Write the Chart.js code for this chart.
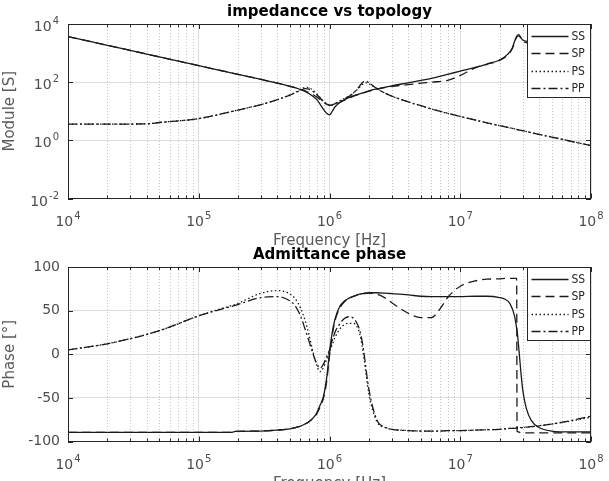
<!DOCTYPE html>
<html>
<head>
<meta charset="utf-8">
<script src="https://cdn.jsdelivr.net/npm/chart.js@4.4.1/dist/chart.umd.min.js"></script>
<style>
  html, body { margin: 0; padding: 0; background: #fff; overflow: hidden; }
  #wrap { position: relative; width: 609px; height: 481px; overflow: hidden; background: #fff; }
  .plot { position: absolute; left: 0; width: 609px; height: 250px; }
</style>
</head>
<body>
<div id="wrap">
  <div class="plot" style="top:0"><canvas id="modChart"></canvas></div>
  <div class="plot" style="top:243px"><canvas id="phaseChart"></canvas></div>
</div>
<script>
// ---- data ----
const seriesNames = ["SS", "SP", "PS", "PP"];

// decade ticks: base "10" with exponent
const xTickValues = [1e4, 1e5, 1e6, 1e7, 1e8];
const xTickExps = ["4", "5", "6", "7", "8"];

const modTickValues = [1e-2, 1, 1e2, 1e4];
const modTickExps = ["-2", "0", "2", "4"];

const phaseTickValues = [-100, -50, 0, 50, 100];
const phaseTickLabels = ["-100", "-50", "0", "50", "100"];

// module [S]
const freqMod = [1e4, 2e4, 4e4, 5e4, 1e5, 2e5, 3e5, 4e5, 5e5, 6e5,
  6.5e5, 7e5, 7.5e5, 8e5, 8.5e5, 9e5, 9.5e5, 1e6, 1.05e6, 1.1e6,
  1.2e6, 1.35e6, 1.5e6, 1.65e6, 1.8e6, 1.9e6, 2e6, 2.2e6, 2.5e6, 3e6,
  4e6, 5e6, 6e6, 8e6, 1e7, 1.3e7, 1.6e7, 2e7, 2.3e7, 2.5e7,
  2.6e7, 2.7e7, 2.8e7, 3e7, 3.3e7, 4e7, 5e7, 7e7, 1e8];

const ssMod = [3700, 1850, 925, 740, 370, 185, 124, 93, 72, 56,
  48, 40, 32, 25, 17, 11.5, 8.5, 7.5, 10, 14,
  20, 27, 33, 38, 43, 46, 50, 56, 63, 75,
  95, 115, 135, 185, 240, 320, 420, 580, 900, 1500,
  2500, 3800, 4300, 2800, 2500, 1800, 1300, 900, 600];

const spMod = [3700, 1850, 925, 740, 370, 185, 124, 93, 72, 57,
  50, 43, 37, 31, 25, 20.5, 17.5, 16, 16, 17,
  20, 26, 32, 37, 42, 45, 49, 55, 62, 72,
  82, 92, 100, 115, 170, 310, 410, 560, 850, 1400,
  2300, 3500, 3900, 2600, 2200, 1500, 1100, 750, 500];

const psMod = [3.6, 3.6, 3.7, 4.1, 5.6, 11, 17, 25, 37, 55,
  66, 64, 52, 39, 29, 22, 18, 16.5, 17, 18.5,
  23, 30, 40, 58, 85, 95, 88, 68, 48, 33,
  21, 15.5, 12, 8.5, 6.6, 5, 4, 3.2, 2.8, 2.6,
  2.5, 2.4, 2.3, 2.15, 1.95, 1.6, 1.3, 0.93, 0.66];

const ppMod = [3.6, 3.6, 3.7, 4.1, 5.6, 11, 17, 25, 36, 52,
  60, 58, 48, 37, 28, 21, 17.5, 16, 16.5, 18,
  22, 29, 40, 62, 100, 108, 95, 70, 48, 33,
  21, 15.5, 12, 8.5, 6.6, 5, 4, 3.2, 2.8, 2.6,
  2.5, 2.4, 2.3, 2.15, 1.95, 1.6, 1.3, 0.93, 0.66];

// phase [deg]
const freqPhase = [1e4, 2e4, 5e4, 1e5, 1.8e5, 1.9e5, 3e5, 4e5, 5e5, 5.5e5,
  6e5, 6.5e5, 7e5, 7.5e5, 8e5, 8.5e5, 9e5, 9.5e5, 1e6, 1.05e6,
  1.1e6, 1.2e6, 1.3e6, 1.4e6, 1.5e6, 1.6e6, 1.7e6, 1.8e6, 2e6, 2.3e6,
  2.7e6, 3e6, 4e6, 5e6, 6e6, 7e6, 8e6, 1e7, 1.3e7, 1.6e7,
  2e7, 2.2e7, 2.4e7, 2.6e7, 2.7e7, 2.72e7, 2.8e7, 2.9e7, 3e7, 3.2e7,
  3.5e7, 4e7, 5e7, 7e7, 1e8];

const ssPhase = [-89.5, -89.5, -89.5, -89.5, -89.5, -88.5, -88, -87, -85.5, -84,
  -82.5, -80, -77, -73, -67, -58, -48, -28, 2, 25,
  40, 55, 61, 64, 66, 67.5, 69, 69.5, 70.5, 70.5,
  70, 69.5, 68, 66.5, 66, 66, 66, 66, 66.5, 66.5,
  65, 63, 58, 44, 30, 27, 8, -18, -40, -62,
  -76, -84, -88, -89, -89];

const spPhase = [-89.5, -89.5, -89.5, -89.5, -89.5, -88.5, -88, -87, -85.5, -84,
  -82.5, -80, -77, -73.5, -68, -60, -50, -32, -2, 22,
  38, 53, 60, 63.5, 66, 67.5, 69, 69.5, 70, 69,
  64, 59, 47, 42, 42, 52, 65, 78, 84, 86,
  86.5, 87, 87, 87, 87, -88, -89, -90, -90, -90,
  -90, -90, -90, -90, -90];

const psPhase = [5, 12, 27, 44, 56, 57, 70, 73, 69, 63,
  53, 39, 21, 2, -13, -20, -15, -6, 3, 11,
  19, 29, 34, 35.5, 35.5, 33, 24, 4, -45, -77,
  -84.5, -86, -87.5, -88, -88, -88, -87.5, -87.5, -87, -86.5,
  -86, -85.5, -85, -85, -84.5, -84.5, -84.5, -84, -84, -83.5,
  -83, -82, -80, -76.5, -72];

const ppPhase = [5, 12, 27, 44, 55, 56, 65, 66, 61, 55,
  44, 29, 14, 0, -11, -16, -11, -3, 5, 15,
  25, 35, 41, 43, 42, 37, 28, 10, -40, -75,
  -84, -86, -87.5, -88, -88, -88, -87.5, -87.5, -87, -86.5,
  -86, -85.5, -85, -85, -84.5, -84.5, -84.5, -84, -84, -83.5,
  -83, -82, -80, -76, -71];

// ---- styles ----
const dashes = { SS: [], SP: [9, 5], PS: [1.5, 2.5], PP: [9, 3, 2, 3] };
const lineColor = "#1a1a1a";
const axisColor = "#262626";
const tickColor = "#4d4d4d";
const FONT = '"DejaVu Sans", sans-serif';

Chart.defaults.font.family = FONT;
Chart.defaults.color = tickColor;

// minor grid positions 2..9 x 10^n
const minorX = [];
for (let d = 4; d < 8; d++) {
  for (let m = 2; m <= 9; m++) minorX.push(m * Math.pow(10, d));
}

function toPoints(freqs, vals) {
  return freqs.map((f, i) => ({ x: f, y: vals[i] }));
}

function makeDatasets(freqs, seriesVals) {
  return seriesNames.map((name, i) => ({
    label: name,
    data: toPoints(freqs, seriesVals[i]),
    borderColor: lineColor,
    borderWidth: 1.3,
    borderDash: dashes[name],
    pointRadius: 0,
    fill: false,
    cubicInterpolationMode: "monotone",
  }));
}

// "10" with a raised exponent; anchor is 'center' or 'right'
function drawPow(ctx, exp, ax, baseY, anchor) {
  ctx.font = "14px " + FONT;
  const wb = ctx.measureText("10").width;
  ctx.font = "10px " + FONT;
  const we = ctx.measureText(exp).width;
  const total = wb + we + 1;
  const left = anchor === "center" ? ax - total / 2 : ax - total;
  ctx.textAlign = "left";
  ctx.textBaseline = "alphabetic";
  ctx.fillStyle = tickColor;
  ctx.font = "14px " + FONT;
  ctx.fillText("10", left, baseY);
  ctx.font = "10px " + FONT;
  ctx.fillText(exp, left + wb + 1, baseY - 7);
}

const matlabAxes = {
  id: "matlabAxes",
  beforeDatasetsDraw(chart) {
    const { ctx, chartArea: a, scales: { x } } = chart;
    ctx.save();
    ctx.strokeStyle = "#c4c4c4";
    ctx.lineWidth = 1;
    ctx.setLineDash([1, 2]);
    minorX.forEach(v => {
      const px = Math.round(x.getPixelForValue(v)) + 0.5;
      ctx.beginPath();
      ctx.moveTo(px, a.top);
      ctx.lineTo(px, a.bottom);
      ctx.stroke();
    });
    ctx.restore();
  },
  afterDatasetsDraw(chart, args, opts) {
    const { ctx, chartArea: a, scales: { x, y } } = chart;
    ctx.save();
    ctx.strokeStyle = axisColor;
    ctx.lineWidth = 1;
    const seg = (x1, y1, x2, y2) => {
      ctx.beginPath();
      ctx.moveTo(x1, y1);
      ctx.lineTo(x2, y2);
      ctx.stroke();
    };
    x.ticks.forEach(t => {
      const px = Math.round(x.getPixelForValue(t.value)) + 0.5;
      seg(px, a.bottom, px, a.bottom - 5);
      seg(px, a.top, px, a.top + 5);
    });
    minorX.forEach(v => {
      const px = Math.round(x.getPixelForValue(v)) + 0.5;
      seg(px, a.bottom, px, a.bottom - 3);
      seg(px, a.top, px, a.top + 3);
    });
    y.ticks.forEach(t => {
      const py = Math.round(y.getPixelForValue(t.value)) + 0.5;
      seg(a.left, py, a.left + 5, py);
      seg(a.right, py, a.right - 5, py);
    });
    ctx.strokeRect(Math.round(a.left) + 0.5, Math.round(a.top) + 0.5,
      Math.round(a.right - a.left) - 1, Math.round(a.bottom - a.top) - 1);

    // decade tick labels
    xTickValues.forEach((v, i) => {
      drawPow(ctx, xTickExps[i], x.getPixelForValue(v), a.bottom + 27, "center");
    });
    if (opts.logY) {
      modTickValues.forEach((v, i) => {
        drawPow(ctx, modTickExps[i], a.left - 9, y.getPixelForValue(v) + 7, "right");
      });
    }

    // legend box, top right inside the axes
    const lw = 64, lh = 73;
    const lx = Math.round(a.right) - lw + 0.5, ly = Math.round(a.top) + 0.5;
    ctx.fillStyle = "#fff";
    ctx.fillRect(lx, ly, lw - 1, lh);
    ctx.strokeStyle = axisColor;
    ctx.lineWidth = 1;
    ctx.strokeRect(lx, ly, lw - 1, lh);
    ctx.font = '12px "DejaVu Sans Condensed", ' + FONT;
    ctx.textBaseline = "middle";
    ctx.textAlign = "left";
    chart.data.datasets.forEach((ds, i) => {
      const yy = Math.round(ly + 11.5 + i * 17.3) + 0.5;
      ctx.setLineDash(ds.borderDash);
      ctx.strokeStyle = ds.borderColor;
      ctx.lineWidth = ds.borderWidth;
      seg(lx + 4, yy, lx + 41, yy);
      ctx.setLineDash([]);
      ctx.fillStyle = "#262626";
      ctx.fillText(ds.label, lx + 44, yy);
    });
    ctx.restore();
  }
};

function makePlot(id, title, datasets, yScale, logY) {
  return new Chart(document.getElementById(id), {
    type: "line",
    data: { datasets },
    options: {
      responsive: true,
      maintainAspectRatio: false,
      animation: false,
      layout: { padding: { left: 0, right: 18, top: 0, bottom: 0 } },
      plugins: {
        legend: { display: false },
        tooltip: { enabled: false },
        matlabAxes: { logY },
        title: {
          display: true,
          text: title,
          fullSize: false,
          color: "#000",
          font: { size: 15, weight: "bold" },
          padding: { top: 3, bottom: 3 },
        },
      },
      scales: {
        x: {
          type: "logarithmic",
          min: 1e4,
          max: 1e8,
          afterBuildTicks: s => { s.ticks = xTickValues.map(v => ({ value: v })); },
          afterFit: s => { s.height = 51.5; },
          ticks: { display: false },
          grid: { color: "#dddddd", drawTicks: false },
          border: { display: false },
          title: {
            display: true,
            text: "Frequency [Hz]",
            color: "#5a5a5a",
            font: { size: 15 },
            padding: { top: 0, bottom: 0 },
          },
        },
        y: yScale,
      },
    },
    plugins: [matlabAxes],
  });
}

makePlot("modChart", "impedancce vs topology",
  makeDatasets(freqMod, [ssMod, spMod, psMod, ppMod]), {
    type: "logarithmic",
    min: 1e-2,
    max: 1e4,
    afterBuildTicks: s => { s.ticks = modTickValues.map(v => ({ value: v })); },
    afterFit: s => { s.width = 68; },
    ticks: { display: false },
    grid: { color: "#dddddd", drawTicks: false },
    border: { display: false },
    title: {
      display: true,
      text: "Module [S]",
      color: "#5a5a5a",
      font: { size: 15 },
      padding: { top: 1, bottom: 0 },
    },
  }, true);

makePlot("phaseChart", "Admittance phase",
  makeDatasets(freqPhase, [ssPhase, spPhase, psPhase, ppPhase]), {
    type: "linear",
    min: -100,
    max: 100,
    afterBuildTicks: s => { s.ticks = phaseTickValues.map(v => ({ value: v })); },
    afterFit: s => { s.width = 68; },
    ticks: { padding: 8, font: { size: 14 }, callback: (v, i) => phaseTickLabels[i] },
    grid: { color: "#dddddd", drawTicks: false },
    border: { display: false },
    title: {
      display: true,
      text: "Phase [\u00B0]",
      color: "#5a5a5a",
      font: { size: 15 },
      padding: { top: 1, bottom: 0 },
    },
  }, false);
</script>
</body>
</html>
